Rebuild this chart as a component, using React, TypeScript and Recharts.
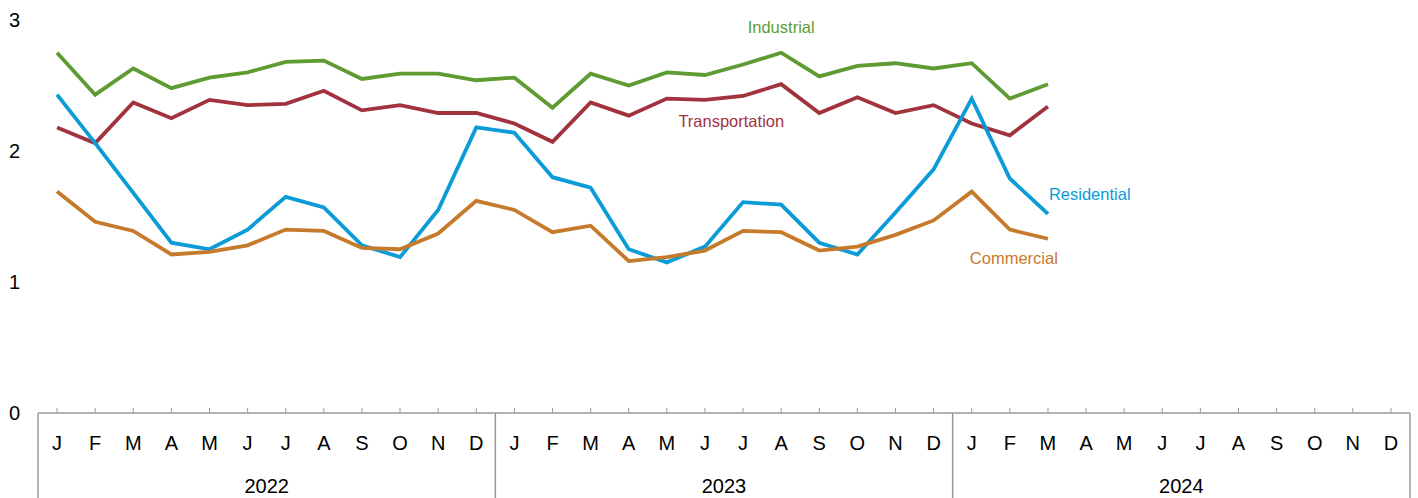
import React from "react";
import { LineChart, Line, XAxis, YAxis, ReferenceDot } from "recharts";

const monthLetters = ["J", "F", "M", "A", "M", "J", "J", "A", "S", "O", "N", "D"];
const years = [2022, 2023, 2024];
const yTicks = [0, 1, 2, 3];

// Jan 2022 .. Mar 2024
const industrial = [
  2.75, 2.43, 2.63, 2.48, 2.56, 2.6, 2.68, 2.69, 2.55, 2.59, 2.59, 2.54,
  2.56, 2.33, 2.59, 2.5, 2.6, 2.58, 2.66, 2.75, 2.57, 2.65, 2.67, 2.63,
  2.67, 2.4, 2.51,
];
const transportation = [
  2.18, 2.06, 2.37, 2.25, 2.39, 2.35, 2.36, 2.46, 2.31, 2.35, 2.29, 2.29,
  2.21, 2.07, 2.37, 2.27, 2.4, 2.39, 2.42, 2.51, 2.29, 2.41, 2.29, 2.35,
  2.21, 2.12, 2.34,
];
const residential = [
  2.43, 2.06, 1.68, 1.3, 1.25, 1.4, 1.65, 1.57, 1.28, 1.19, 1.55, 2.18,
  2.14, 1.8, 1.72, 1.25, 1.15, 1.27, 1.61, 1.59, 1.3, 1.21, 1.53, 1.86,
  2.4, 1.79, 1.52,
];
const commercial = [
  1.69, 1.46, 1.39, 1.21, 1.23, 1.28, 1.4, 1.39, 1.26, 1.25, 1.37, 1.62,
  1.55, 1.38, 1.43, 1.16, 1.19, 1.24, 1.39, 1.38, 1.24, 1.27, 1.36, 1.47,
  1.69, 1.4, 1.33,
];

const COLORS = {
  industrial: "#5e9c33",
  transportation: "#a3323f",
  residential: "#0b9bd8",
  commercial: "#c67a2c",
};

const data = years.flatMap((year, yi) =>
  monthLetters.map((m, mi) => {
    const i = yi * 12 + mi;
    return {
      key: `${year}-${mi + 1}`,
      industrial: industrial[i] ?? null,
      transportation: transportation[i] ?? null,
      residential: residential[i] ?? null,
      commercial: commercial[i] ?? null,
    };
  })
);

const WIDTH = 1418;
const HEIGHT = 498;
const MARGIN = { top: 20, right: 8, left: 0, bottom: 0 };
const Y_AXIS_W = 38;
const X_AXIS_H = 85;
const STEP = (WIDTH - MARGIN.right - Y_AXIS_W) / data.length;
const FONT = "'Liberation Sans', Arial, sans-serif";
const AXIS_GRAY = "#9a9a9a";
const LINE_W = 3.8;

function MonthTick(props: any) {
  const { x, y, index } = props;
  const mi = index % 12;
  const year = years[Math.floor(index / 12)];
  return (
    <g>
      <line x1={x} x2={x} y1={y} y2={y - 5} stroke={AXIS_GRAY} strokeWidth={1} />
      <text x={x} y={y + 37} textAnchor="middle" fontSize={20} fill="#000" fontFamily={FONT}>
        {monthLetters[mi]}
      </text>
      {mi === 0 && (
        <line x1={x - STEP / 2} x2={x - STEP / 2} y1={y} y2={y + X_AXIS_H} stroke={AXIS_GRAY} strokeWidth={1.5} />
      )}
      {index === data.length - 1 && (
        <line x1={x + STEP / 2} x2={x + STEP / 2} y1={y} y2={y + X_AXIS_H} stroke={AXIS_GRAY} strokeWidth={1.5} />
      )}
      {mi === 5 && (
        <text x={x + STEP / 2} y={y + 80} textAnchor="middle" fontSize={20} fill="#000" fontFamily={FONT}>
          {year}
        </text>
      )}
    </g>
  );
}

function ValueTick(props: any) {
  const { x, y, payload } = props;
  return (
    <text x={x - 18} y={y + 7} textAnchor="end" fontSize={20} fill="#000" fontFamily={FONT}>
      {payload.value}
    </text>
  );
}

function seriesLabel(text: string, color: string, anchor: "start" | "middle" | "end", dx = 0) {
  return (props: any) => {
    const { viewBox } = props;
    return (
      <text x={viewBox.x + dx} y={viewBox.y + 6} textAnchor={anchor} fontSize={16.5} fill={color} fontFamily={FONT}>
        {text}
      </text>
    );
  };
}

export default function App() {
  return (
    <div style={{ position: "absolute", left: 0, top: 0, background: "#fff" }}>
      <LineChart width={WIDTH} height={HEIGHT} data={data} margin={MARGIN}>
        <XAxis
          dataKey="key"
          interval={0}
          height={X_AXIS_H}
          padding={{ left: STEP / 2, right: STEP / 2 }}
          tickSize={0}
          tickMargin={0}
          tickLine={false}
          axisLine={{ stroke: AXIS_GRAY, strokeWidth: 1.5 }}
          tick={<MonthTick />}
        />
        <YAxis
          domain={[0, 3]}
          ticks={yTicks}
          width={Y_AXIS_W}
          tickSize={0}
          tickMargin={0}
          axisLine={false}
          tickLine={false}
          tick={<ValueTick />}
        />
        <Line dataKey="industrial" stroke={COLORS.industrial} strokeWidth={LINE_W} dot={false} isAnimationActive={false} />
        <Line dataKey="transportation" stroke={COLORS.transportation} strokeWidth={LINE_W} dot={false} isAnimationActive={false} />
        <Line dataKey="residential" stroke={COLORS.residential} strokeWidth={LINE_W} dot={false} isAnimationActive={false} />
        <Line dataKey="commercial" stroke={COLORS.commercial} strokeWidth={LINE_W} dot={false} isAnimationActive={false} />
        <ReferenceDot x="2023-8" y={2.95} r={0} stroke="none" fill="none" label={seriesLabel("Industrial", COLORS.industrial, "middle")} />
        <ReferenceDot x="2023-8" y={2.23} r={0} stroke="none" fill="none" label={seriesLabel("Transportation", COLORS.transportation, "end", 3)} />
        <ReferenceDot x="2024-3" y={1.67} r={0} stroke="none" fill="none" label={seriesLabel("Residential", COLORS.residential, "start", 1)} />
        <ReferenceDot x="2024-2" y={1.18} r={0} stroke="none" fill="none" label={seriesLabel("Commercial", COLORS.commercial, "middle", 4)} />
      </LineChart>
    </div>
  );
}
